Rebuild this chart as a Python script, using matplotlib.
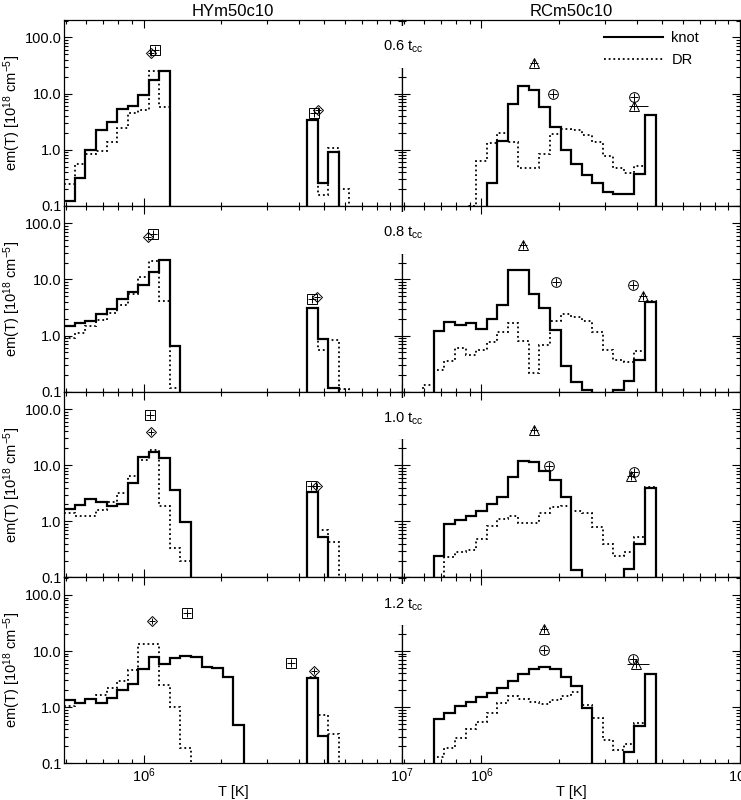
import numpy as np
import matplotlib.pyplot as plt
from matplotlib.ticker import FixedLocator, FixedFormatter, LogLocator, NullFormatter

plt.rcParams['font.family'] = ['Liberation Sans', 'DejaVu Sans']
plt.rcParams['mathtext.default'] = 'regular'

# bins: 32 log-spaced temperature bins over the plotted range
t_min, t_max = 4.94e5, 1.0e7
edges = np.logspace(np.log10(t_min), np.log10(t_max), 33)

models = ['HYm50c10', 'RCm50c10']
times = ['0.6', '0.8', '1.0', '1.2']

# em(T) per bin, 10^18 cm^-5 (0 = empty bin)
hy_knot_06 = [0.12, 0.31, 1.0, 2.27, 3.1, 5.3, 6.1, 9.6, 17.3, 25.4] + [0]*13 + [3.43, 0.257, 0.91] + [0]*6
hy_dr_06 = [0.24, 0.55, 0.85, 0.93, 1.4, 2.4, 4.5, 5.2, 25.0, 5.7] + [0]*13 + [3.4, 0.157, 1.07, 0.2] + [0]*5
hy_knot_08 = [1.47, 1.64, 1.83, 2.4, 3.03, 4.4, 5.85, 8.1, 13.7, 22.0, 0.645] + [0]*12 + [3.1, 0.86, 0.116] + [0]*6
hy_dr_08 = [0.91, 1.1, 1.47, 1.93, 2.47, 3.5, 5.5, 11.1, 21.6, 4.1, 0.116] + [0]*12 + [3.1, 0.55, 0.83, 0.11] + [0]*5
hy_knot_10 = [1.66, 1.98, 2.5, 2.18, 1.9, 2.07, 4.8, 13.9, 17.3, 13.5, 3.57, 0.99] + [0]*11 + [3.3, 0.52] + [0]*7
hy_dr_10 = [1.4, 1.23, 1.23, 1.6, 2.18, 3.2, 6.35, 12.6, 19.0, 1.85, 0.33, 0.2] + [0]*11 + [3.3, 0.71, 0.42] + [0]*6
hy_knot_12 = [1.35, 1.21, 1.39, 1.21, 1.45, 2.04, 2.6, 4.77, 7.8, 5.85, 7.5, 8.25, 7.7, 5.3, 4.97, 3.43, 0.48] + [0]*6 + [3.3, 0.31] + [0]*7
hy_dr_12 = [1.03, 1.18, 1.39, 1.66, 2.18, 2.87, 4.6, 13.5, 13.5, 2.5, 1.0, 0.19] + [0]*11 + [3.4, 0.73, 0.33] + [0]*6

rc_knot_06 = [0]*8 + [0.26, 1.45, 6.5, 13.9, 11.8, 5.7, 2.5, 1.0, 0.55, 0.35, 0.25, 0.176, 0.16, 0.165, 0.37, 4.2] + [0]*8
rc_dr_06 = [0]*6 + [0.1, 0.64, 1.3, 2.0, 1.4, 0.47, 0.47, 0.84, 1.9, 2.3, 2.2, 1.85, 1.4, 0.76, 0.47, 0.38, 0.52, 4.2] + [0]*8
rc_knot_08 = [0]*3 + [1.2, 1.75, 1.57, 1.64, 1.3, 2.0, 3.57, 14.7, 14.7, 5.5, 3.1, 1.23, 0.29, 0.15, 0.105] + [0]*2 + [0.105, 0.155, 0.37, 4.0] + [0]*8
rc_dr_08 = [0]*2 + [0.13, 0.24, 0.35, 0.59, 0.45, 0.55, 0.77, 1.16, 1.68, 0.79, 0.215, 0.69, 1.8, 2.4, 2.15, 1.8, 1.16, 0.56, 0.36, 0.34, 0.53, 4.1] + [0]*8
rc_knot_10 = [0]*3 + [0.237, 0.91, 1.07, 1.26, 1.55, 2.04, 2.68, 6.2, 11.8, 11.3, 8.0, 5.4, 2.7, 0.137] + [0]*4 + [0.143, 0.39, 3.9] + [0]*8
rc_dr_10 = [0]*4 + [0.23, 0.28, 0.31, 0.48, 0.81, 1.1, 1.23, 0.93, 0.93, 1.4, 1.78, 1.9, 1.55, 1.4, 0.78, 0.4, 0.24, 0.29, 0.52, 4.1] + [0]*8
rc_knot_12 = [0]*3 + [0.62, 0.80, 1.03, 1.23, 1.5, 1.78, 2.18, 2.95, 3.9, 4.8, 5.2, 4.8, 3.4, 2.34, 0.96] + [0]*3 + [0.157, 0.46, 3.9] + [0]*8
rc_dr_12 = [0]*3 + [0.13, 0.19, 0.28, 0.4, 0.55, 0.78, 1.18, 1.55, 1.39, 1.23, 1.13, 1.35, 1.55, 1.83, 1.1, 0.64, 0.26, 0.17, 0.22, 0.52, 3.9] + [0]*8

hy_knot = [hy_knot_06, hy_knot_08, hy_knot_10, hy_knot_12]
hy_dr = [hy_dr_06, hy_dr_08, hy_dr_10, hy_dr_12]
rc_knot = [rc_knot_06, rc_knot_08, rc_knot_10, rc_knot_12]
rc_dr = [rc_dr_06, rc_dr_08, rc_dr_10, rc_dr_12]

# observed points (T [K], em)
hy_sq_T = [[1.11e6, 4.55e6], [1.09e6, 4.5e6], [1.055e6, 4.45e6], [1.47e6, 3.72e6]]
hy_sq_em = [[59, 4.5], [64, 4.4], [80, 4.2], [48, 6.1]]
hy_di_T = [[1.07e6, 4.71e6], [1.045e6, 4.69e6], [1.07e6, 4.69e6], [1.077e6, 4.58e6]]
hy_di_em = [[53, 5.2], [58, 4.9], [39, 4.3], [35, 4.45]]
rc_tri_T = [[1.6e6, 3.9e6], [1.45e6, 4.2e6], [1.6e6, 3.78e6], [1.75e6, 3.97e6]]
rc_tri_em = [[35, 6.1], [41, 5.1], [42, 6.5], [24.7, 5.95]]
rc_tri_xlo = [0.18e6, 0, 0, 0.30e6]
rc_tri_xhi = [0.49e6, 0, 0, 0.48e6]
rc_ci_T = [[1.9e6, 3.9e6], [1.95e6, 3.85e6], [1.82e6, 3.89e6], [1.74e6, 3.84e6]]
rc_ci_em = [[10, 8.7], [9.1, 7.9], [9.8, 7.5], [10.6, 7.2]]

fig, axes = plt.subplots(4, 2, figsize=(7.41, 8), dpi=100)
fig.subplots_adjust(left=0.0868, right=0.9987, top=0.975, bottom=0.0459, wspace=0, hspace=0)

dots = (0, (1, 1.6))


def draw_hist(ax, vals, ls, lw):
    v = np.array(vals, dtype=float)
    v[v <= 0] = 1e-3
    ax.stairs(v, edges, baseline=None, color='k', lw=lw, linestyle=ls)


def mark(ax, T, em, m, ms):
    ax.plot(T, em, ls='none', marker=m, ms=ms, mfc='none', mec='k', mew=0.7)
    ax.plot(T, em, ls='none', marker='+', ms=ms * 0.85, mec='k', mew=0.7)


for r in range(4):
    axl, axr = axes[r, 0], axes[r, 1]

    draw_hist(axl, hy_dr[r], dots, 1.3)
    draw_hist(axl, hy_knot[r], '-', 1.6)
    mark(axl, hy_sq_T[r], hy_sq_em[r], 's', 7)
    mark(axl, hy_di_T[r], hy_di_em[r], 'D', 5.5)

    draw_hist(axr, rc_dr[r], dots, 1.3)
    draw_hist(axr, rc_knot[r], '-', 1.6)
    mark(axr, rc_tri_T[r], rc_tri_em[r], '^', 7)
    mark(axr, rc_ci_T[r], rc_ci_em[r], 'o', 7)
    if rc_tri_xlo[r] > 0:
        axr.errorbar([rc_tri_T[r][1]], [rc_tri_em[r][1]],
                     xerr=[[rc_tri_xlo[r]], [rc_tri_xhi[r]]],
                     fmt='none', ecolor='k', elinewidth=0.7, capsize=0)

    for ax in (axl, axr):
        ax.set_xscale('log')
        ax.set_yscale('log')
        ax.set_xlim(t_min, t_max)
        ax.set_ylim(0.1, 205)
        ax.yaxis.set_major_locator(FixedLocator([0.1, 1, 10, 100]))
        ax.yaxis.set_major_formatter(FixedFormatter(['0.1', '1.0', '10.0', '100.0']))
        ax.yaxis.set_minor_locator(LogLocator(base=10, subs=np.arange(2, 10)))
        ax.yaxis.set_minor_formatter(NullFormatter())
        ax.xaxis.set_minor_locator(LogLocator(base=10, subs=np.arange(2, 10)))
        ax.xaxis.set_minor_formatter(NullFormatter())
        ax.tick_params(which='both', direction='in', top=True, right=True,
                       labelsize=10.5, width=0.8, pad=2)
        ax.tick_params(which='major', length=6)
        ax.tick_params(which='minor', length=3)
        for s in ax.spines.values():
            s.set_linewidth(0.9)
        if r < 3:
            ax.tick_params(labelbottom=False)
        else:
            ax.set_xlabel('T [K]', fontsize=10.5, labelpad=0)

    axr.tick_params(labelleft=False)
    axl.set_ylabel('em(T) [10$^{18}$ cm$^{-5}$]', fontsize=10.5, labelpad=1)

    axr.text(0.003, 1 - 27 / 185.7, times[r] + ' t$_{cc}$', transform=axr.transAxes,
             ha='center', va='center', fontsize=10.5, zorder=10, clip_on=False,
             bbox=dict(facecolor='white', edgecolor='none', pad=9))

axes[0, 0].set_title(models[0], fontsize=12, pad=3)
axes[0, 1].set_title(models[1], fontsize=12, pad=3)

axes[0, 1].plot([], [], color='k', lw=1.5, label='knot')
axes[0, 1].plot([], [], color='k', lw=1.3, linestyle=dots, label='DR')
axes[0, 1].legend(loc='upper left', bbox_to_anchor=((604 - 401.7) / 338.3, 1 - 11 / 185.7),
                  frameon=False, handlelength=4.0, handletextpad=0.6, fontsize=10.5,
                  labelspacing=0.55, borderaxespad=0, borderpad=0)

fig.savefig('out.png', dpi=100)
